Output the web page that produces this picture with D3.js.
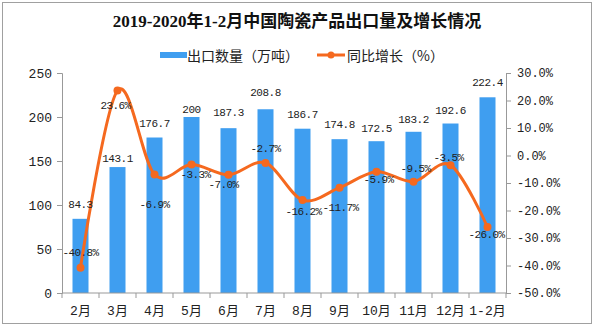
<!DOCTYPE html>
<html>
<head>
<meta charset="utf-8">
<script src="https://cdn.jsdelivr.net/npm/d3@7"></script>
<style>
  * { margin: 0; padding: 0; }
  body { background: #fff; }
  svg text { fill: #222; }
  .tick-label { font-family: "Liberation Mono", "Noto Sans CJK SC", monospace; }
  .cjk { font-family: "Noto Sans CJK SC", sans-serif; }
</style>
</head>
<body>
<svg id="chart"></svg>
<script>
// data
const months = ["2月", "3月", "4月", "5月", "6月", "7月", "8月", "9月", "10月", "11月", "12月", "1-2月"];
const exportVolume = [84.3, 143.1, 176.7, 200, 187.3, 208.8, 186.7, 174.8, 172.5, 183.2, 192.6, 222.4];
const growthRate = [-40.8, 23.6, -6.9, -3.3, -7.0, -2.7, -16.2, -11.7, -5.9, -9.5, -3.5, -26.0];
const leftTicks = [0, 50, 100, 150, 200, 250];
const rightTicks = [-50, -40, -30, -20, -10, 0, 10, 20, 30];

const titleText = "2019-2020年1-2月中国陶瓷产品出口量及增长情况";
const barName = "出口数量（万吨）";
const lineName = "同比增长（%）";

// label nudges (Excel placed these by hand-ish)
const barLabelDy = [-14, -8, -14, -7, -15, -16, -14, -14, -12, -12, -13, -14];
const pctLabelDx = [0, -2, 0, 4, -5, 0, 1, 1, 2, 2, -2, -1];
const pctLabelDy = [-15, 15, 31, 10, 10, -14, 12, 20, 8, -13, -7, 8];

const W = 597, H = 329;
const margin = { top: 73, right: 91, bottom: 36, left: 62 };
const blue = "#3f9ef0";
const orange = "#f5691f";
const axisColor = "#999";

const svg = d3.select("#chart").attr("width", W).attr("height", H);

// frame
svg.append("rect")
  .attr("x", 2.5).attr("y", 2.5)
  .attr("width", 589).attr("height", 321)
  .attr("fill", "#fff").attr("stroke", "#a0a0a0");

const band = d3.scaleBand().domain(months).range([margin.left, W - margin.right]);
const yL = d3.scaleLinear().domain([0, 250]).range([H - margin.bottom, margin.top]);
const yR = d3.scaleLinear().domain([-50, 30]).range([H - margin.bottom, margin.top]);
const cx = (m) => band(m) + band.bandwidth() / 2;
const pct = (v) => (v < 0 ? "-" : "") + Math.abs(v).toFixed(1) + "%";

// title
svg.append("text")
  .attr("x", 297).attr("y", 21)
  .attr("text-anchor", "middle").attr("dominant-baseline", "central")
  .style("font-family", '"Liberation Serif", "Noto Sans CJK SC", serif')
  .style("font-weight", "bold").style("font-size", "17px")
  .style("fill", "#111")
  .text(titleText);

// legend
const lg = svg.append("g");
lg.append("rect").attr("x", 160).attr("y", 52).attr("width", 27).attr("height", 6).attr("fill", blue);
lg.append("text").attr("class", "cjk").attr("x", 187).attr("y", 55)
  .attr("dominant-baseline", "central").style("font-size", "14px").text(barName);
lg.append("line").attr("x1", 317).attr("x2", 345).attr("y1", 55).attr("y2", 55)
  .attr("stroke", orange).attr("stroke-width", 3);
lg.append("circle").attr("cx", 331).attr("cy", 55).attr("r", 3.5).attr("fill", orange);
lg.append("text").attr("class", "cjk").attr("x", 347).attr("y", 55)
  .attr("dominant-baseline", "central").style("font-size", "14px").text(lineName);

// bars
svg.append("g").selectAll("rect").data(exportVolume).join("rect")
  .attr("x", (d, i) => cx(months[i]) - 8)
  .attr("width", 16)
  .attr("y", (d) => yL(d))
  .attr("height", (d) => yL(0) - yL(d))
  .attr("fill", blue);

// axes
const leftAxis = svg.append("g")
  .attr("transform", `translate(${margin.left},0)`)
  .call(d3.axisLeft(yL).tickValues(leftTicks).tickSize(5).tickPadding(5));
const rightAxis = svg.append("g")
  .attr("transform", `translate(${W - margin.right},0)`)
  .call(d3.axisRight(yR).tickValues(rightTicks).tickSize(5).tickPadding(6).tickFormat(pct));
const bottomAxis = svg.append("g")
  .attr("transform", `translate(0,${H - margin.bottom})`)
  .call(d3.axisBottom(band).tickSize(0).tickPadding(13));

[leftAxis, rightAxis, bottomAxis].forEach((g) => {
  g.select(".domain").attr("stroke", axisColor);
  g.selectAll(".tick line").attr("stroke", axisColor);
  g.selectAll("text").attr("class", "tick-label").style("fill", "#222");
});
leftAxis.selectAll("text").style("font-size", "13px");
rightAxis.selectAll("text").style("font-size", "12px");
bottomAxis.selectAll("text").style("font-size", "13px");
bottomAxis.select(".domain").attr("d", `M${margin.left},0H${W - margin.right}`);

// bottom ticks at band edges
bottomAxis.selectAll(".edge").data(months.concat([null])).join("line")
  .attr("x1", (d) => (d ? band(d) : W - margin.right))
  .attr("x2", (d) => (d ? band(d) : W - margin.right))
  .attr("y1", 0).attr("y2", 5)
  .attr("stroke", axisColor);

// growth line
const pts = growthRate.map((v, i) => [cx(months[i]), yR(v)]);
svg.append("path")
  .attr("d", d3.line().curve(d3.curveCardinal.tension(0))(pts))
  .attr("fill", "none").attr("stroke", orange).attr("stroke-width", 3);
svg.append("g").selectAll("circle").data(pts).join("circle")
  .attr("cx", (d) => d[0]).attr("cy", (d) => d[1]).attr("r", 4).attr("fill", orange);

// bar labels
svg.append("g").selectAll("text").data(exportVolume).join("text")
  .attr("class", "tick-label")
  .attr("x", (d, i) => cx(months[i]))
  .attr("y", (d, i) => yL(d) + barLabelDy[i])
  .attr("text-anchor", "middle").attr("dominant-baseline", "central")
  .style("font-size", "11px").style("letter-spacing", "-0.5px")
  .text((d) => d);

// growth labels
svg.append("g").selectAll("text").data(growthRate).join("text")
  .attr("class", "tick-label")
  .attr("x", (d, i) => cx(months[i]) + pctLabelDx[i])
  .attr("y", (d, i) => yR(d) + pctLabelDy[i])
  .attr("text-anchor", "middle").attr("dominant-baseline", "central")
  .style("font-size", "11px").style("letter-spacing", "-0.6px")
  .text((d) => pct(d));
</script>
</body>
</html>
